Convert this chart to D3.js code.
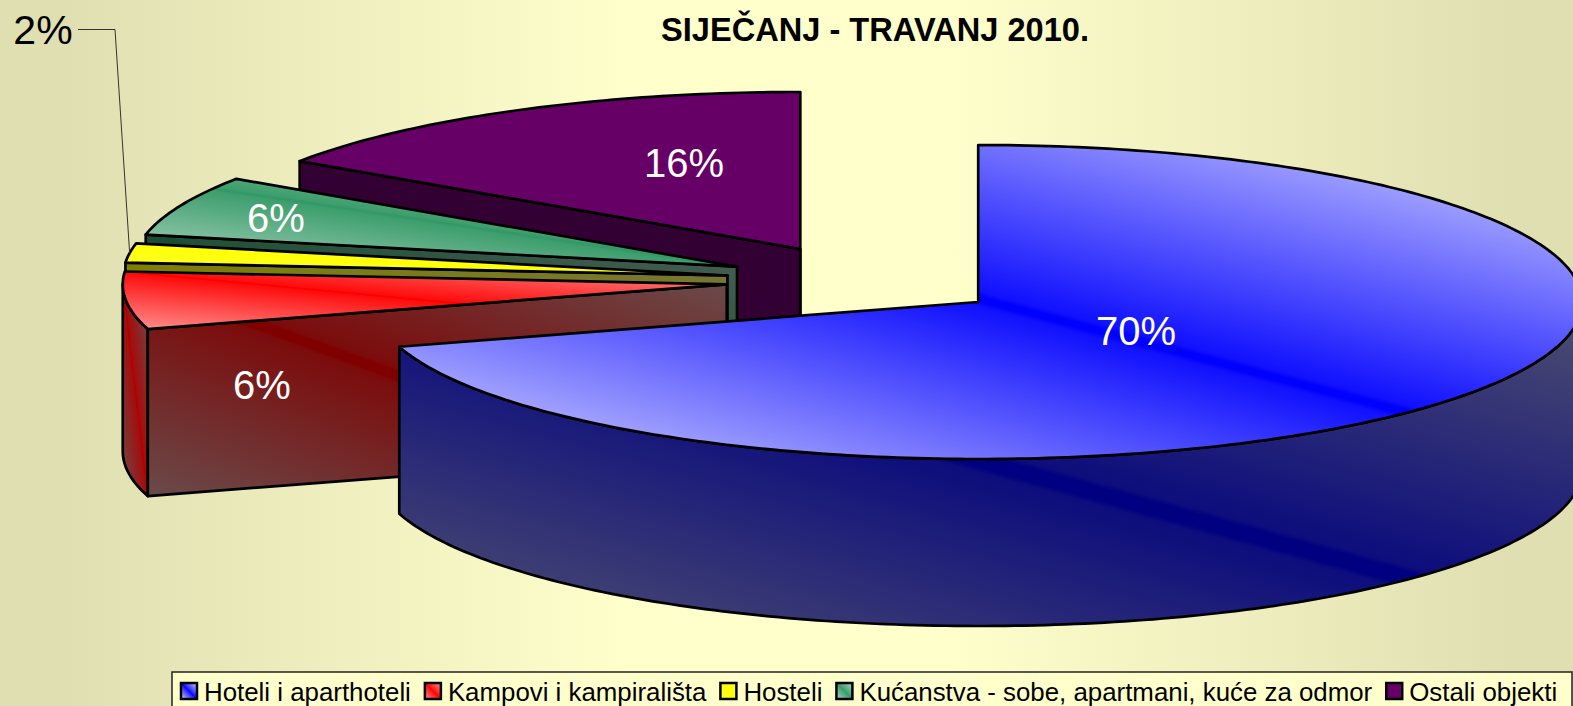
<!DOCTYPE html>
<html>
<head>
<meta charset="utf-8">
<script src="https://cdn.jsdelivr.net/npm/d3@7"></script>
<style>
  html, body { margin: 0; padding: 0; background: #ffffcc; overflow: hidden; }
  text { font-family: "Liberation Sans", Arial, sans-serif; }
</style>
</head>
<body>
<div id="chart"></div>
<script>
// data
const categories = ["Hoteli i aparthoteli", "Kampovi i kampirališta", "Hosteli", "Kućanstva - sobe, apartmani, kuće za odmor", "Ostali objekti"];
const shares = [70.4, 5.9, 1.97, 6.18, 15.55];

// fills: top surface [edge, middle], wall [edge, middle]
const topColors = [["#d8d8ff", "#0000ff"], ["#ff9090", "#ff0000"], ["#ffff33", "#ffff00"], ["#b0d6c2", "#339966"], ["#660066", "#660066"]];
const wallColors = [["#505070", "#000080"], ["#6a4a4a", "#800000"], ["#757538", "#808000"], ["#4a5f55", "#1a4d33"], ["#330033", "#330033"]];

// hand placed labels, same as in the original chart
const labelX = [1136, 262, 43, 276, 684];
const labelY = [331, 385, 30, 218, 163];

const width = 1573, height = 706;
const center = {x: 866, y: 280.6};
const rx = 604, ry = 157, depth = 167;
const explodeX = 140, explodeY = 35.8;

const svg = d3.select("#chart").append("svg")
  .attr("width", width)
  .attr("height", height)
  .style("display", "block");
const defs = svg.append("defs");

// the original fills run across the shape's bounding box, with a narrow pure band on its diagonal
function diagGradient(id, edge, mid, band, soft) {
  const near = d3.interpolateRgb(mid, edge)(soft);
  const g = defs.append("linearGradient")
    .attr("id", id)
    .attr("x1", 1).attr("y1", 0).attr("x2", 0).attr("y2", 1);
  [[0, edge], [0.5 - band - 0.008, near], [0.5 - band, mid], [0.5 + band, mid], [0.5 + band + 0.008, near], [1, edge]].forEach(s => {
    g.append("stop").attr("offset", s[0]).attr("stop-color", s[1]);
  });
}

// Background
const bg = defs.append("linearGradient").attr("id", "bg");
[[0.04, "#dfdfb2"], [0.4, "#ffffcc"], [0.6, "#ffffcc"], [0.96, "#dfdfb2"]].forEach(s => {
  bg.append("stop").attr("offset", s[0]).attr("stop-color", s[1]);
});
svg.append("rect").attr("width", width).attr("height", height).attr("fill", "url(#bg)");

const pie = d3.pie().sort(null)(shares);

// angle is clockwise from twelve o'clock, as d3.pie gives it
const rim = (s, a, dz) => [s.x + rx * Math.sin(a), s.y - ry * Math.cos(a) + (dz || 0)];

const line = d3.line();

function arcPoints(s, a0, a1, dz) {
  const n = Math.max(2, Math.ceil(Math.abs(a1 - a0) * 60));
  return d3.range(n + 1).map(i => rim(s, a0 + (a1 - a0) * i / n, dz));
}

const chart = svg.append("g").attr("stroke", "#000").attr("stroke-width", 2.7).attr("stroke-linejoin", "round");

// Painter's order: back slices first
const drawOrder = [4, 3, 2, 1, 0];
drawOrder.forEach(i => {
  const d = pie[i];
  const mid = (d.startAngle + d.endAngle) / 2;
  const apex = {
    x: center.x + explodeX * Math.sin(mid),
    y: center.y - explodeY * Math.cos(mid)
  };

  diagGradient(`top${i}`, topColors[i][0], topColors[i][1], 0.004, 0.08);
  diagGradient(`wall${i}`, wallColors[i][0], wallColors[i][1], 0.01, 0.16);
  diagGradient(`outer${i}`, i == 1 ? "#6a4a4a" : wallColors[i][0], i == 1 ? "#b00000" : wallColors[i][1], 0.01, 0.16);

  const g = chart.append("g");
  const low = [apex.x, apex.y + depth];

  // outer wall, only the part that faces the viewer
  const a0 = Math.max(d.startAngle, Math.PI / 2), a1 = Math.min(d.endAngle, Math.PI * 1.5);
  if (a1 > a0) {
    const pts = arcPoints(apex, a0, a1, 0).concat(arcPoints(apex, a1, a0, depth));
    g.append("path").attr("d", line(pts) + "Z").attr("fill", `url(#outer${i})`);
  }

  // cut walls
  if (Math.sin(d.startAngle) < -1e-6) {
    const p = rim(apex, d.startAngle), q = rim(apex, d.startAngle, depth);
    g.append("path").attr("d", line([p, [apex.x, apex.y], low, q]) + "Z").attr("fill", `url(#wall${i})`);
  }
  if (Math.sin(d.endAngle) > 1e-6) {
    const p = rim(apex, d.endAngle), q = rim(apex, d.endAngle, depth);
    g.append("path").attr("d", line([p, [apex.x, apex.y], low, q]) + "Z").attr("fill", `url(#wall${i})`);
  }
  // back silhouette edge for the slice that ends at twelve o'clock
  if (i == 4) {
    g.append("path").attr("d", line([[apex.x, apex.y], low])).attr("fill", "none");
  }

  // top surface
  const top = [[apex.x, apex.y]].concat(arcPoints(apex, d.startAngle, d.endAngle, 0));
  g.append("path").attr("d", line(top) + "Z").attr("fill", `url(#top${i})`);
});

// Leader line for the small slice
const small = pie[2];
const smallMid = (small.startAngle + small.endAngle) / 2;
const smallApex = {x: center.x + explodeX * Math.sin(smallMid), y: center.y - explodeY * Math.cos(smallMid)};
const leaderEnd = rim(smallApex, smallMid);
svg.append("path")
  .attr("d", line([[78, 29.5], [115, 29.5], leaderEnd]))
  .attr("fill", "none")
  .attr("stroke", "#333")
  .attr("stroke-width", 1);

// Percent labels
svg.selectAll("text.pct")
  .data(pie)
  .join("text")
  .attr("class", "pct")
  .attr("x", (d, i) => labelX[i])
  .attr("y", (d, i) => labelY[i])
  .attr("text-anchor", "middle")
  .attr("dominant-baseline", "central")
  .attr("font-size", (d, i) => i == 2 ? 41 : 40)
  .attr("fill", (d, i) => i == 2 ? "#000" : "#fff")
  .text(d => d3.format(".0f")(d.value) + "%");

// Title
svg.append("text")
  .attr("x", 875)
  .attr("y", 41)
  .attr("text-anchor", "middle")
  .attr("font-size", 32.6)
  .attr("font-weight", "bold")
  .attr("fill", "#000")
  .text("SIJEČANJ - TRAVANJ 2010.");

// Legend
const legend = svg.append("g");
legend.append("rect")
  .attr("x", 172).attr("y", 672)
  .attr("width", 1400).attr("height", 40)
  .attr("fill", "#ffffcc")
  .attr("stroke", "#222").attr("stroke-width", 1.5);

const legendFont = 25.85;
const swatchSize = 16;
let legendX = 181;
categories.forEach((c, i) => {
  diagGradient(`swatch${i}`, topColors[i][0], topColors[i][1], 0.01, 0.1);
  legend.append("rect")
    .attr("x", legendX).attr("y", 683)
    .attr("width", swatchSize).attr("height", swatchSize)
    .attr("fill", `url(#swatch${i})`)
    .attr("stroke", "#000").attr("stroke-width", 2.5);
  const t = legend.append("text")
    .attr("x", legendX + swatchSize + 7)
    .attr("y", 700.5)
    .attr("font-size", legendFont)
    .attr("fill", "#000")
    .text(c);
  legendX += swatchSize + 7 + t.node().getComputedTextLength() + 14;
});
</script>
</body>
</html>
